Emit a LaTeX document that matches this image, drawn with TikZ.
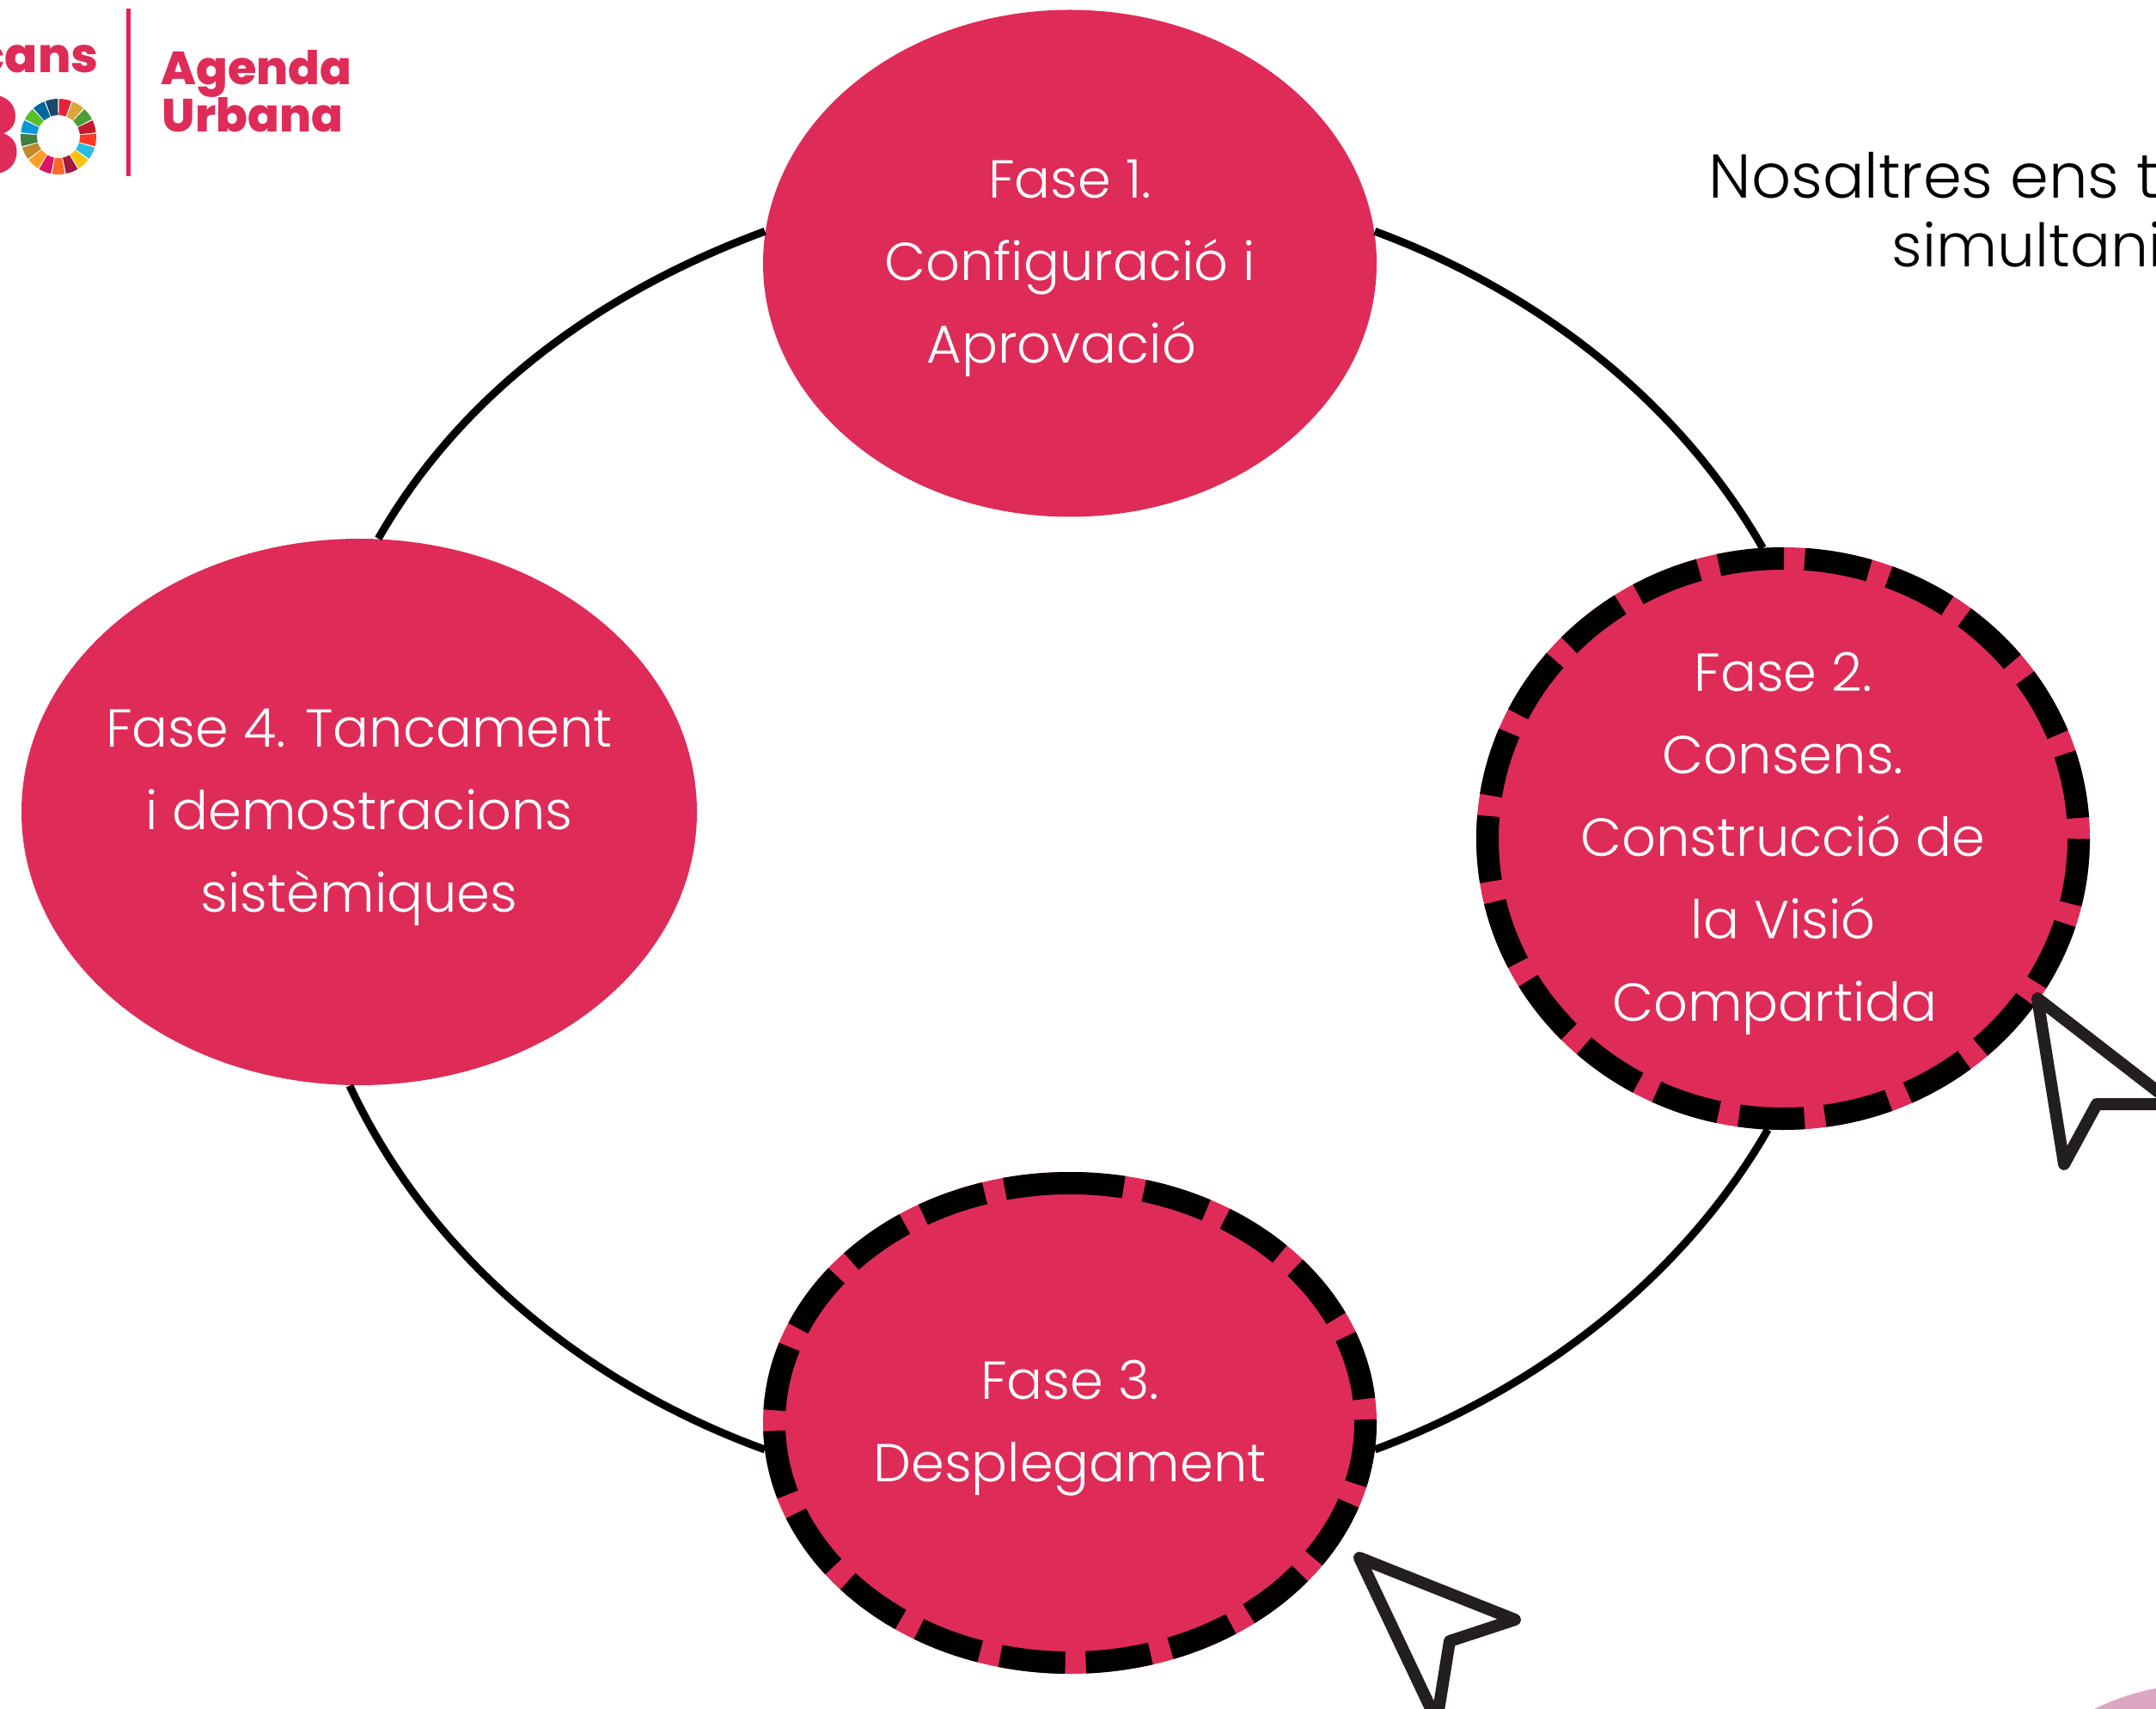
\documentclass[tikz,border=0pt]{standalone}
\usepackage{fontspec}
\usetikzlibrary{shapes.geometric}
\setmainfont{Poppins}[UprightFont=* Light, BoldFont=* ExtraBold]
\definecolor{rosa}{RGB}{223,43,87}
\definecolor{cursorgris}{RGB}{35,31,32}
\definecolor{malva}{RGB}{221,167,195}
\definecolor{linia}{RGB}{233,30,80}

\begin{document}
\begin{tikzpicture}[
        fase/.style={ellipse, fill=rosa, inner sep=0},
        fasedash/.style={fase, draw=black, line width=.26cm,
            preaction={draw=rosa, solid, line width=.26cm}},
        txt/.style={text=white, align=center, font=\fontsize{17.7}{27.3}\selectfont},
        enllac/.style={line width=.09cm},
        punter/.style={draw=cursorgris, fill=white, line width=.14cm, line join=round},
        logo/.style={text=rosa, anchor=base west, inner sep=0, font=\fontsize{15.4}{16}\selectfont\bfseries},
        frase/.style={anchor=base west, inner sep=0, font=\fontsize{20.5}{20}\selectfont},
    ]
    \clip (0,0) rectangle (25.09,19.88);

    \fill[malva] (25.68,-2.71) circle (3);

    \node[fase, minimum width=7.14cm, minimum height=5.90cm] (f1) at (12.45,16.815) {};
    \node[fasedash, minimum width=6.88cm, minimum height=6.52cm, dash pattern=on .7625cm off .24cm, dash phase=.7625cm] (f2) at (20.75,10.12) {};
    \node[fasedash, minimum width=5.58cm, minimum height=6.88cm, rotate=90, dash pattern=on .76cm off .24cm] (f3) at (12.45,3.32) {};
    \node[fase, minimum width=7.86cm, minimum height=6.36cm] (f4) at (4.18,10.43) {};

    \node[txt] (t1) at ([yshift=-.06cm]f1) {Fase 1.\\Configuració i\\Aprovació\kern5.5pt};
    \node[txt] (t2) at ([yshift=-.06cm]f2) {Fase 2.\\Consens.\\Construcció de\\la Visió\\Compartida\kern5.5pt};
    \node[txt] (t3) at ([yshift=-.06cm]f3) {Fase 3.\\Desplegament};
    \node[txt] (t4) at ([yshift=-.06cm]f4) {Fase 4. Tancament\\i demostracions\\sistèmiques};

    \draw[enllac]
    (f1.6) .. controls +(-20.3:2.11) and +(119.8:1.90) .. (f2.94)
    (f3.265) .. controls +(20.3:2.11) and +(-119.8:1.90) .. (f2.267)
    (f3.95) .. controls +(160:2.34) and +(-65:2.10) .. (f4.268)
    (f1.174) .. controls +(200.3:2.11) and +(60.2:1.90) .. (f4.86)
    ;

    \draw[punter] (23.71,8.26) -- (24.02,6.33) -- (24.40,7.03) -- (25.30,7.03) -- cycle;
    \draw[punter] (15.82,1.75) -- (16.72,-0.15) -- (16.87,0.78) -- (17.63,1.03) -- cycle;

    \node[frase] (nosaltres) at (19.88,17.57) {Nosaltres ens t};
    \node[frase, font=\fontsize{19.8}{20}\selectfont] (simultani) at (22.01,16.77) {simultani};

    \node[logo, font=\fontsize{16}{16}\selectfont\bfseries] (cans) at (-0.29,19.03) {cans};
    \node[logo, font=\fontsize{35}{35}\selectfont\bfseries] (trenta) at (-0.49,17.85) {3};
    \node[logo] (agenda) at (1.87,18.89) {Agenda};
    \node[logo] (urbana) at (1.88,18.34) {Urbana};
    \draw[linia, line width=.05cm] (1.49,19.78) -- (1.49,17.83);

    \foreach \n/\c in {0/E5243B,1/DDA63A,2/4C9F38,3/C5192D,4/FF3A21,5/26BDE2,6/FCC30B,7/A21942,8/FD6925,
        9/DD1367,10/FD9D24,11/BF8B2E,12/3F7E44,13/0A97D9,14/56C02B,15/00689D,16/19486A}{
        \definecolor{sdg}{HTML}{\c}
        \fill[sdg, shift={(.68,18.29)}] ({90-\n*360/17-1}:.44) arc ({90-\n*360/17-1}:{90-(\n+1)*360/17+1}:.44)
            -- ({90-(\n+1)*360/17+1}:.25) arc ({90-(\n+1)*360/17+1}:{90-\n*360/17-1}:.25) -- cycle;
    }
\end{tikzpicture}
\end{document}
